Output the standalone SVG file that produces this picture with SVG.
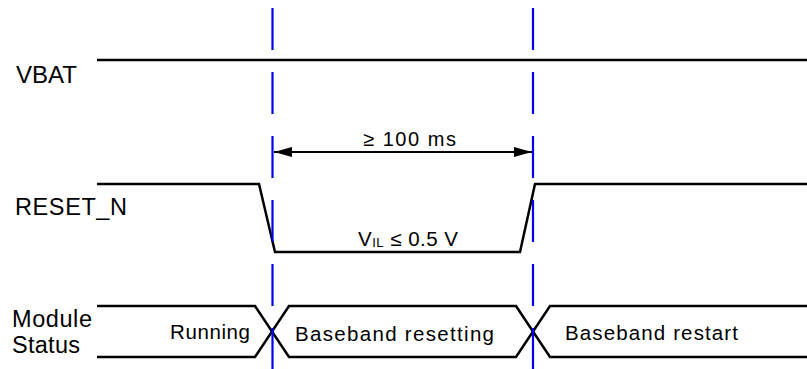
<svg xmlns="http://www.w3.org/2000/svg" width="807" height="369" viewBox="0 0 807 369">
<defs>
<style>
.sig{fill:none;stroke:#000;stroke-width:2.5;stroke-linejoin:miter}
.mark{fill:none;stroke:#0000ff;stroke-width:2.2;stroke-dasharray:42 22}
.lbl{font-family:"Liberation Sans",Arial,sans-serif;fill:#000}
.dim{stroke:#000;stroke-width:2;fill:none}
</style>
<marker id="ah" viewBox="0 0 18 10" refX="18" refY="5" markerWidth="18" markerHeight="10" markerUnits="userSpaceOnUse" orient="auto-start-reverse">
<path d="M0,0 L18,5 L0,10 Z" fill="#000"/>
</marker>
</defs>
<rect width="807" height="369" fill="#fff"/>
<g id="vbat">
<text class="lbl" x="16" y="83" font-size="23.5" textLength="61" lengthAdjust="spacingAndGlyphs">VBAT</text>
<line class="sig" x1="97" y1="60" x2="807" y2="60"/>
</g>
<g id="reset_n">
<text class="lbl" x="15" y="215" font-size="23.5" textLength="112" lengthAdjust="spacing">RESET_N</text>
<polyline class="sig" points="97,184 259,184 275,252 520,252 535,184 807,184"/>
<text class="lbl" x="358" y="246" font-size="20.5" textLength="100" lengthAdjust="spacing">V<tspan font-size="13" dy="1">IL</tspan><tspan dy="-1"> ≤ 0.5 V</tspan></text>
</g>
<g id="module_status">
<text class="lbl" x="12" y="327" font-size="23.5" textLength="80" lengthAdjust="spacing">Module</text>
<text class="lbl" x="12" y="353" font-size="23.5" textLength="68" lengthAdjust="spacing">Status</text>
<polyline class="sig" points="97,306 255,306 289,357 516,357 550,306 807,306"/>
<polyline class="sig" points="97,357 255,357 289,306 516,306 550,357 807,357"/>
<text class="lbl" x="170" y="339" font-size="20.5" textLength="80" lengthAdjust="spacing">Running</text>
<text class="lbl" x="295" y="341" font-size="20.5" textLength="199" lengthAdjust="spacing">Baseband resetting</text>
<text class="lbl" x="565" y="340" font-size="20.5" textLength="173" lengthAdjust="spacing">Baseband restart</text>
</g>
<g id="connectors">
<line class="mark" x1="272.5" y1="8" x2="272.5" y2="369"/>
<line class="mark" x1="533" y1="8" x2="533" y2="369"/>
<line class="dim" x1="274" y1="152" x2="532" y2="152" marker-start="url(#ah)" marker-end="url(#ah)"/>
<text class="lbl" x="363" y="146" font-size="20" textLength="93" lengthAdjust="spacing">≥ 100 ms</text>
</g>
</svg>
